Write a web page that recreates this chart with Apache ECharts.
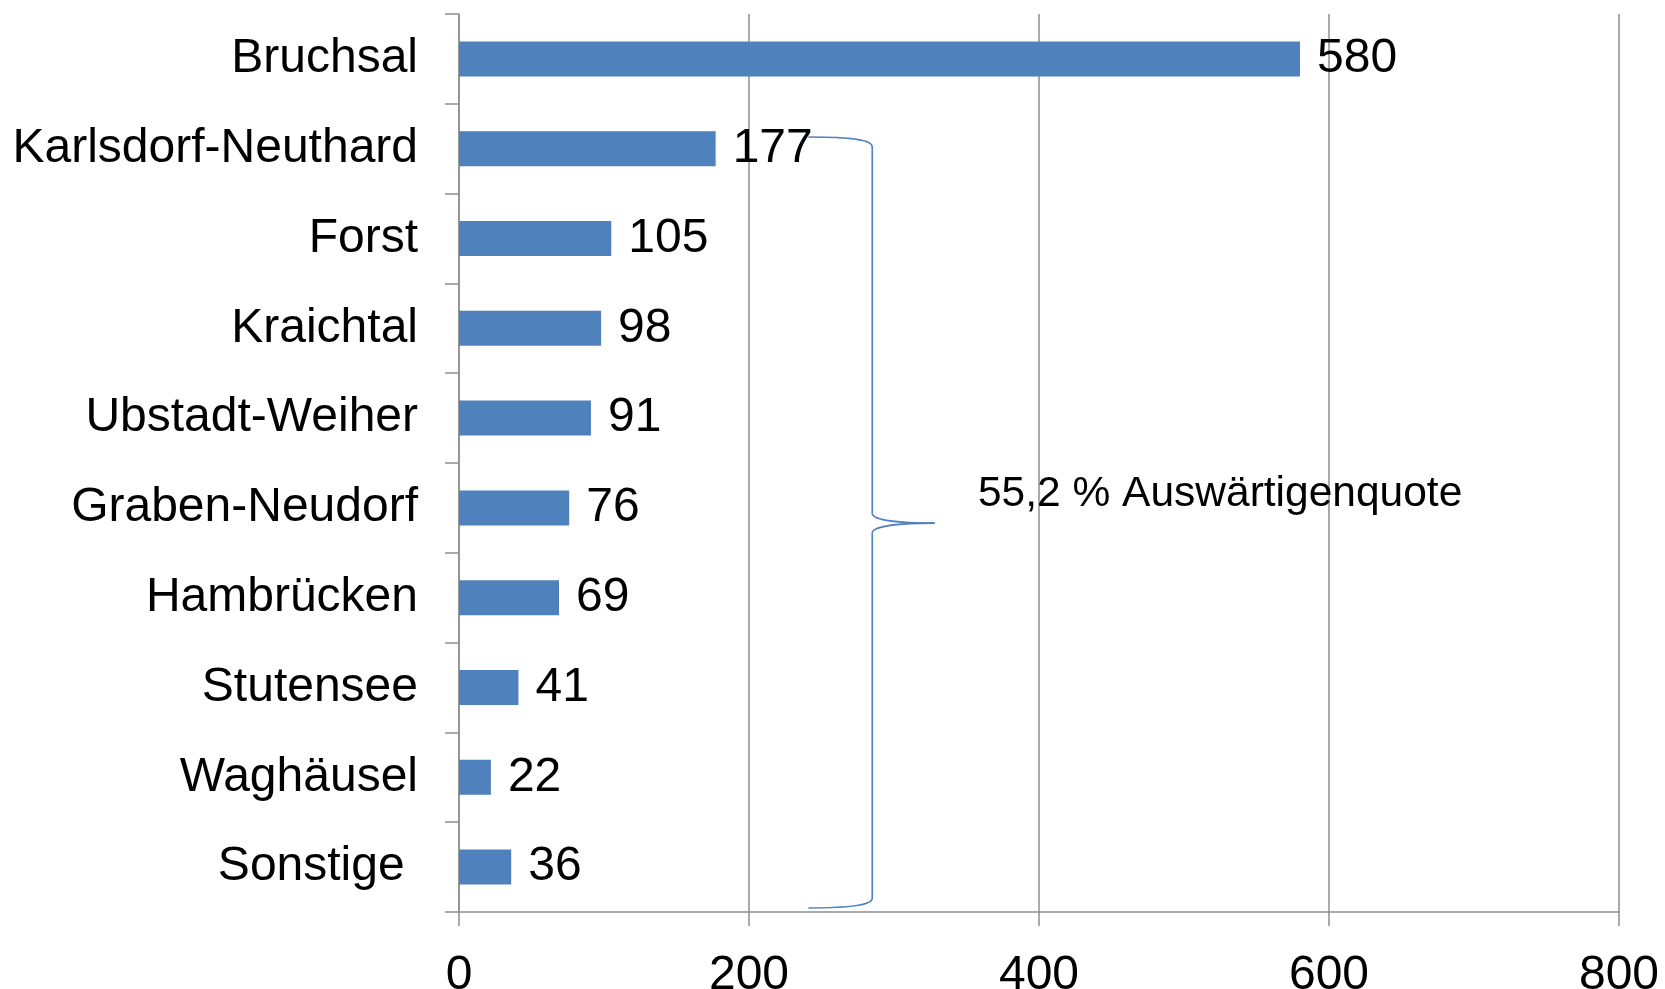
<!DOCTYPE html>
<html>
<head>
<meta charset="utf-8">
<script src="https://cdn.jsdelivr.net/npm/echarts@6/dist/echarts.min.js"></script>
<style>
html,body{margin:0;padding:0;background:#fff;}
#chart{width:1665px;height:989px;}
</style>
</head>
<body>
<div id="chart"></div>
<script>
const categories = ['Bruchsal','Karlsdorf-Neuthard','Forst','Kraichtal','Ubstadt-Weiher','Graben-Neudorf','Hambrücken','Stutensee','Waghäusel','Sonstige '];
const values = [580,177,105,98,91,76,69,41,22,36];
const xTicks = [0,200,400,600,800];
const annotationText = '55,2 % Auswärtigenquote';

const FONT = '"Liberation Sans", Arial, sans-serif';
const GRAY = '#8f8f8f';
const BLUE = '#4F81BD';

const chart = echarts.init(document.getElementById('chart'), null, {renderer:'canvas'});
const option = {
  backgroundColor:'#fff',
  animation:false,
  textStyle:{fontFamily:FONT},
  grid:{left:459, right:46, top:14, bottom:77, containLabel:false, outerBoundsMode:'none'},
  xAxis:{
    type:'value', min:xTicks[0], max:xTicks[xTicks.length-1], interval:xTicks[1]-xTicks[0],
    axisLine:{show:true, lineStyle:{color:GRAY, width:1.5}},
    axisTick:{show:true, length:14, lineStyle:{color:GRAY, width:1.5}},
    splitLine:{show:true, lineStyle:{color:GRAY, width:1.5}},
    axisLabel:{fontSize:48, color:'#000', margin:40, fontFamily:FONT}
  },
  yAxis:{
    type:'category', inverse:true, data:categories,
    axisLine:{show:true, lineStyle:{color:GRAY, width:1.5}},
    axisTick:{show:true, length:14, alignWithLabel:false, lineStyle:{color:GRAY, width:1.5}},
    splitLine:{show:false},
    axisLabel:{fontSize:48, color:'#000', margin:41, fontFamily:FONT, padding:[7,0,0,0]}
  },
  series:[{
    type:'bar', data:values, barWidth:35,
    itemStyle:{color:BLUE},
    label:{show:true, position:'right', distance:17, fontSize:48, color:'#000', fontFamily:FONT, padding:[12,0,0,0]}
  }]
};
chart.setOption(option);

// brace annotation, anchored in data space
const braceLeftX = 241, braceSpineX = 285, braceTipX = 328;
const braceTopIdx = 0.87, braceTipIdx = 5.17, braceBottomIdx = 9.455;
function px(xv, idx){
  const p0 = chart.convertToPixel({gridIndex:0}, [xv, 0]);
  const p1 = chart.convertToPixel({gridIndex:0}, [xv, 1]);
  return [p0[0], p0[1] + (p1[1]-p0[1])*idx];
}
const A = px(braceLeftX, braceTopIdx);
const S = px(braceSpineX, braceTopIdx);
const T = px(braceTipX, braceTipIdx);
const B = px(braceLeftX, braceBottomIdx);
const sx = S[0], r = 10;
const ls = {stroke:BLUE, lineWidth:1.6, fill:null};
function bez(x1,y1,c1x,c1y,c2x,c2y,x2,y2){
  return {type:'bezierCurve', shape:{x1:x1,y1:y1,cpx1:c1x,cpy1:c1y,cpx2:c2x,cpy2:c2y,x2:x2,y2:y2}, style:ls, z:100};
}
const txt = px(357.9, 4.845);
chart.setOption({
  graphic:[
    bez(A[0],A[1], sx-20,A[1], sx,A[1]+3, sx,A[1]+r),
    {type:'line', shape:{x1:sx,y1:A[1]+r,x2:sx,y2:T[1]-r}, style:ls, z:100},
    bez(sx,T[1]-r, sx,T[1]-3, sx+28,T[1], T[0],T[1]),
    bez(T[0],T[1], sx+28,T[1], sx,T[1]+3, sx,T[1]+r),
    {type:'line', shape:{x1:sx,y1:T[1]+r,x2:sx,y2:B[1]-r}, style:ls, z:100},
    bez(sx,B[1]-r, sx,B[1]-3, sx-20,B[1], B[0],B[1]),
    {type:'text', x:txt[0], y:txt[1], style:{text:annotationText, font:'42.5px ' + FONT, fill:'#000', textVerticalAlign:'middle', verticalAlign:'middle'}, z:100}
  ]
});
</script>
</body>
</html>
